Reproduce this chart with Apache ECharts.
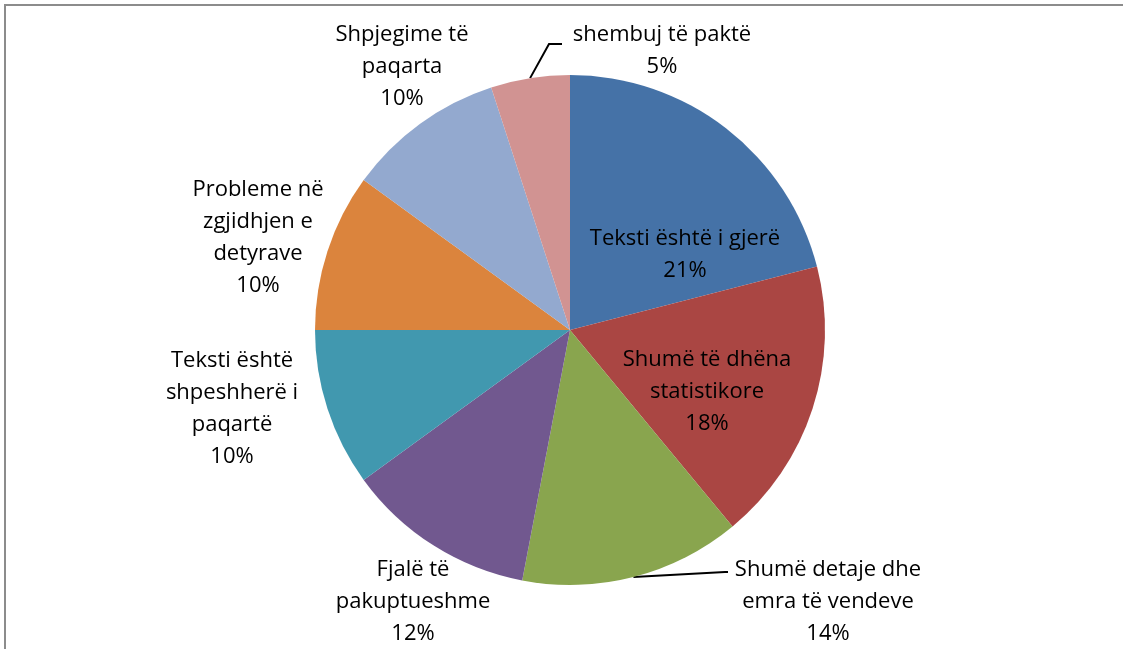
<!DOCTYPE html>
<html>
<head>
<meta charset="utf-8">
<script src="https://cdn.jsdelivr.net/npm/echarts@6/dist/echarts.min.js"></script>
<style>html,body{margin:0;padding:0;background:#fff;}#c{width:1123px;height:649px;}</style>
</head>
<body>
<div id="c"></div>
<script>
const categories = [
  'Teksti është i gjerë',
  'Shumë të dhëna\nstatistikore',
  'Shumë detaje dhe\nemra të vendeve',
  'Fjalë të\npakuptueshme',
  'Teksti është\nshpeshherë i\npaqartë',
  'Probleme në\nzgjidhjen e\ndetyrave',
  'Shpjegime të\npaqarta',
  'shembuj të paktë'
];
const values = [21, 18, 14, 12, 10, 10, 10, 5];
const colors = ['#4572A7', '#AA4643', '#89A54E', '#71588F', '#4198AF', '#DB843D', '#93A9CF', '#D19392'];
// label block centres (layout only)
const labelCenters = [[685, 255], [707, 392], [828, 602], [413, 602], [232, 409], [258, 238], [402, 67], [662, 51]];
// label-line bend/end points (layout only); start comes from the library
const lineEnds = { 2: [[725, 572], [728, 572]], 7: [[549, 44], [562, 44]] };
const withLine = [false, false, true, false, false, false, false, true];

const chart = echarts.init(document.getElementById('c'));
chart.setOption({
  animation: false,
  backgroundColor: '#fff',
  graphic: [{
    type: 'polyline',
    shape: { points: [[5, 649], [5, 5], [1123, 5]] },
    style: { stroke: '#8c8c8c', lineWidth: 2, fill: null }
  }],
  series: [{
    type: 'pie',
    center: [570, 330],
    radius: [0, 255],
    startAngle: 90,
    clockwise: true,
    avoidLabelOverlap: false,
    itemStyle: { borderWidth: 0 },
    label: {
      show: true,
      formatter: '{b}\n{d}%',
      fontFamily: 'Open Sans',
      fontSize: 22,
      lineHeight: 32,
      color: '#000',
      align: 'center'
    },
    labelLine: { show: true, length: 10, length2: 10, smooth: false, lineStyle: { color: '#000', width: 2 } },
    labelLayout: function (p) {
      const c = labelCenters[p.dataIndex];
      const out = { x: c[0], y: c[1], align: 'center', verticalAlign: 'middle' };
      const e = lineEnds[p.dataIndex];
      if (e && p.labelLinePoints) {
        out.labelLinePoints = [p.labelLinePoints[0], e[0], e[1]];
      }
      return out;
    },
    data: categories.map((n, i) => ({
      name: n,
      value: values[i],
      itemStyle: { color: colors[i] },
      labelLine: { show: withLine[i] }
    }))
  }]
});
</script>
</body>
</html>
